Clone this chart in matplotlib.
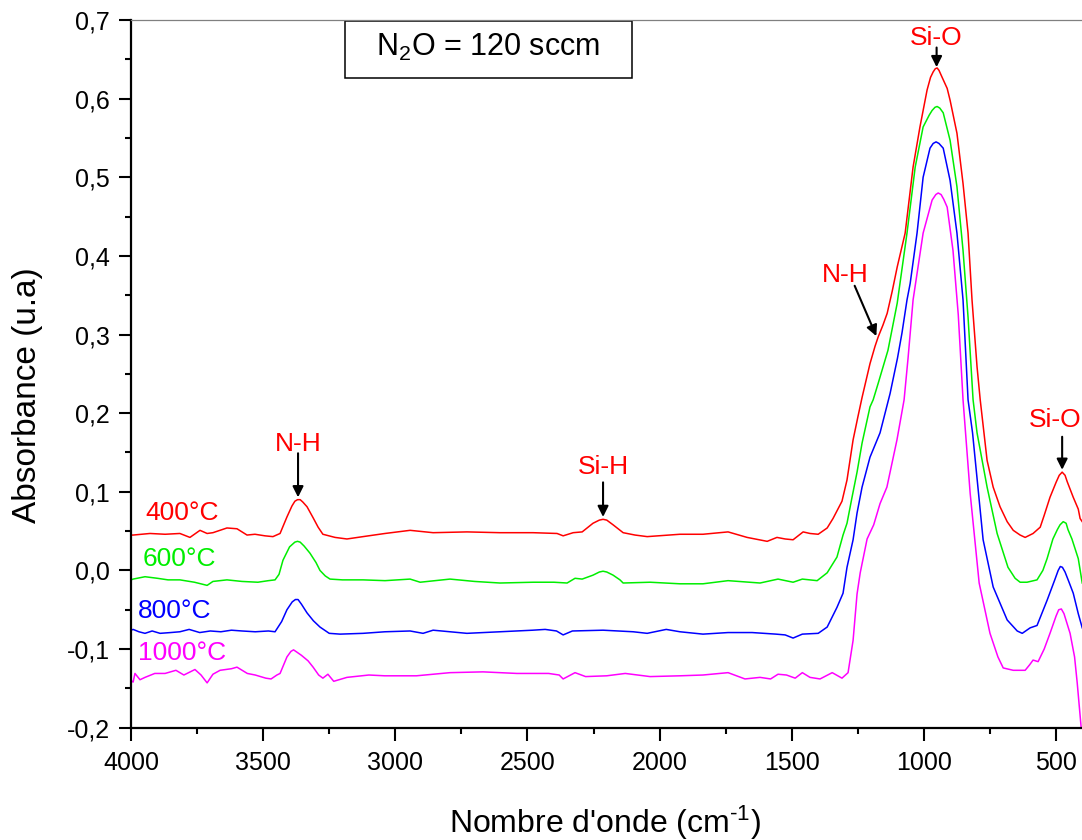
import matplotlib
matplotlib.use("Agg")
import matplotlib.pyplot as plt
from matplotlib.patches import Rectangle
from matplotlib.ticker import MultipleLocator, FixedLocator, FixedFormatter

plt.rcParams['font.family'] = ['Liberation Sans', 'DejaVu Sans']
plt.rcParams['mathtext.fontset'] = 'custom'
plt.rcParams['mathtext.rm'] = 'Liberation Sans'
plt.rcParams['mathtext.default'] = 'regular'

# ---- FTIR spectra (wavenumber in cm-1, absorbance in a.u.) ----
wn_400 = [4000, 3992, 3928, 3871, 3815, 3777, 3739, 3712, 3690, 3637, 3599, 3561, 3531,
          3493, 3463, 3436, 3410, 3391, 3380, 3370, 3360, 3350, 3334, 3311, 3292, 3274,
          3228, 3183, 3122, 3039, 2944, 2857, 2729, 2604, 2479, 2388, 2365, 2327, 2293,
          2252, 2228, 2214, 2200, 2176, 2138, 2093, 2047, 1923, 1836, 1741, 1669, 1593,
          1556, 1525, 1495, 1457, 1431, 1400, 1366, 1344, 1310, 1291, 1268, 1250, 1234,
          1204, 1185, 1173, 1155, 1139, 1120, 1101, 1071, 1041, 1015, 988, 975, 965, 957,
          950, 943, 931, 912, 901, 875, 852, 833, 818, 799, 787, 761, 738, 712, 685, 662,
          636, 617, 587, 560, 545, 523, 500, 488, 477, 466, 458, 435, 416, 409, 401]
abs_400 = [0.045, 0.045, 0.047, 0.046, 0.047, 0.042, 0.051, 0.047, 0.048, 0.054, 0.053,
           0.045, 0.046, 0.044, 0.043, 0.047, 0.068, 0.082, 0.088, 0.090, 0.090, 0.087,
           0.081, 0.067, 0.055, 0.046, 0.042, 0.040, 0.043, 0.047, 0.051, 0.048, 0.049,
           0.048, 0.048, 0.047, 0.044, 0.048, 0.049, 0.060, 0.064, 0.065, 0.064, 0.058,
           0.048, 0.045, 0.043, 0.046, 0.046, 0.049, 0.042, 0.037, 0.042, 0.040, 0.039,
           0.049, 0.047, 0.046, 0.054, 0.066, 0.088, 0.115, 0.166, 0.195, 0.220, 0.263,
           0.285, 0.297, 0.312, 0.327, 0.355, 0.386, 0.429, 0.513, 0.564, 0.611, 0.627,
           0.634, 0.638, 0.639, 0.636, 0.627, 0.613, 0.598, 0.556, 0.492, 0.429, 0.344,
           0.259, 0.217, 0.140, 0.106, 0.081, 0.062, 0.051, 0.045, 0.042, 0.047, 0.055,
           0.070, 0.093, 0.112, 0.121, 0.125, 0.121, 0.113, 0.093, 0.078, 0.066, 0.062]

wn_600 = [4000, 3992, 3947, 3900, 3860, 3815, 3760, 3712, 3690, 3637, 3580, 3520, 3480,
          3455, 3440, 3425, 3400, 3380, 3370, 3360, 3345, 3323, 3300, 3285, 3265, 3247,
          3200, 3122, 3039, 2944, 2906, 2793, 2700, 2604, 2479, 2400, 2350, 2320, 2293,
          2252, 2228, 2214, 2200, 2176, 2150, 2138, 2036, 1923, 1836, 1741, 1620, 1552,
          1495, 1460, 1404, 1366, 1329, 1306, 1291, 1272, 1253, 1234, 1204, 1192, 1173,
          1136, 1101, 1064, 1033, 1003, 980, 969, 958, 950, 940, 927, 901, 875, 852, 833,
          814, 799, 761, 723, 682, 655, 636, 610, 572, 550, 534, 512, 495, 485, 473,
          462, 455, 440, 416, 401]
abs_600 = [-0.012, -0.011, -0.008, -0.010, -0.012, -0.012, -0.015, -0.019, -0.014, -0.012,
           -0.014, -0.015, -0.013, -0.012, -0.005, 0.013, 0.030, 0.036, 0.037, 0.036,
           0.031, 0.022, 0.010, 0.000, -0.007, -0.011, -0.012, -0.012, -0.013, -0.011,
           -0.015, -0.011, -0.014, -0.016, -0.015, -0.015, -0.016, -0.010, -0.011, -0.006,
           -0.002, -0.001, -0.002, -0.006, -0.012, -0.016, -0.015, -0.017, -0.017, -0.013,
           -0.016, -0.011, -0.015, -0.011, -0.013, -0.003, 0.017, 0.045, 0.060, 0.093,
           0.125, 0.162, 0.208, 0.217, 0.238, 0.280, 0.340, 0.429, 0.513, 0.564, 0.579,
           0.585, 0.589, 0.590, 0.588, 0.582, 0.547, 0.488, 0.407, 0.322, 0.217, 0.175,
           0.106, 0.047, 0.004, -0.010, -0.015, -0.015, -0.012, 0.000, 0.015, 0.040,
           0.052, 0.058, 0.062, 0.060, 0.052, 0.040, 0.015, -0.016]

wn_800 = [4000, 3992, 3970, 3947, 3920, 3890, 3850, 3815, 3780, 3740, 3700, 3660, 3620,
          3580, 3530, 3480, 3455, 3430, 3410, 3390, 3378, 3368, 3355, 3334, 3310, 3285,
          3250, 3209, 3122, 3039, 2944, 2895, 2857, 2729, 2604, 2480, 2433, 2390, 2365,
          2330, 2214, 2100, 2047, 1975, 1923, 1836, 1741, 1650, 1560, 1525, 1495, 1460,
          1400, 1366, 1329, 1306, 1291, 1268, 1253, 1234, 1204, 1166, 1128, 1100, 1083,
          1064, 1052, 1026, 1003, 977, 965, 954, 943, 927, 901, 875, 852, 833, 816, 776,
          738, 685, 647, 628, 598, 572, 534, 505, 492, 484, 476, 466, 452, 435, 416, 401]
abs_800 = [-0.076, -0.075, -0.078, -0.080, -0.077, -0.080, -0.079, -0.078, -0.075, -0.079,
           -0.077, -0.078, -0.076, -0.077, -0.078, -0.077, -0.078, -0.065, -0.050, -0.040,
           -0.037, -0.037, -0.043, -0.054, -0.064, -0.072, -0.080, -0.081, -0.080, -0.078,
           -0.077, -0.080, -0.076, -0.080, -0.078, -0.076, -0.075, -0.077, -0.082, -0.077,
           -0.076, -0.078, -0.080, -0.075, -0.078, -0.081, -0.079, -0.079, -0.081, -0.082,
           -0.086, -0.081, -0.080, -0.072, -0.047, -0.029, 0.004, 0.039, 0.073, 0.106,
           0.144, 0.175, 0.225, 0.270, 0.302, 0.344, 0.365, 0.429, 0.500, 0.537, 0.543,
           0.545, 0.543, 0.537, 0.496, 0.429, 0.344, 0.217, 0.175, 0.039, -0.021, -0.063,
           -0.077, -0.080, -0.073, -0.070, -0.038, -0.012, 0.000, 0.005, 0.004, -0.002,
           -0.014, -0.029, -0.055, -0.073]

wn_1000 = [4000, 3992, 3985, 3966, 3947, 3910, 3871, 3830, 3800, 3758, 3735, 3712, 3690,
           3663, 3620, 3599, 3560, 3530, 3490, 3470, 3448, 3436, 3410, 3395, 3385, 3372,
           3355, 3330, 3311, 3290, 3274, 3255, 3233, 3183, 3100, 3040, 2982, 2920, 2793,
           2668, 2540, 2420, 2380, 2365, 2320, 2280, 2200, 2130, 2036, 1923, 1836, 1741,
           1677, 1620, 1580, 1552, 1520, 1487, 1460, 1431, 1393, 1347, 1310, 1287, 1268,
           1253, 1241, 1215, 1190, 1166, 1140, 1102, 1075, 1060, 1041, 1003, 969, 955,
           946, 935, 925, 912, 890, 870, 852, 825, 791, 750, 720, 700, 662, 617, 600,
           587, 568, 545, 523, 500, 490, 480, 470, 447, 430, 420, 405, 400]
abs_1000 = [-0.140, -0.142, -0.131, -0.139, -0.136, -0.131, -0.131, -0.127, -0.133, -0.126,
            -0.133, -0.143, -0.132, -0.127, -0.125, -0.123, -0.131, -0.133, -0.137, -0.138,
            -0.133, -0.131, -0.110, -0.103, -0.101, -0.104, -0.108, -0.115, -0.123, -0.133,
            -0.137, -0.132, -0.141, -0.136, -0.133, -0.134, -0.134, -0.134, -0.130, -0.129,
            -0.131, -0.131, -0.133, -0.138, -0.130, -0.135, -0.134, -0.131, -0.135, -0.134,
            -0.133, -0.130, -0.138, -0.136, -0.138, -0.132, -0.133, -0.137, -0.130, -0.136,
            -0.138, -0.130, -0.137, -0.130, -0.089, -0.030, -0.003, 0.040, 0.058, 0.085,
            0.106, 0.166, 0.217, 0.270, 0.344, 0.429, 0.471, 0.478, 0.480, 0.478, 0.472,
            0.462, 0.407, 0.325, 0.217, 0.098, -0.016, -0.080, -0.110, -0.124, -0.127,
            -0.127, -0.120, -0.114, -0.116, -0.100, -0.080, -0.058, -0.050, -0.049, -0.055,
            -0.080, -0.110, -0.143, -0.200, -0.215]

series = [
    ("400°C", wn_400, abs_400, "#ff0000"),
    ("600°C", wn_600, abs_600, "#00ee00"),
    ("800°C", wn_800, abs_800, "#0000ff"),
    ("1000°C", wn_1000, abs_1000, "#ff00ff"),
]

# curve labels: (wavenumber, absorbance baseline)
curve_label_pos = [(3947, 0.064), (3955, 0.0056), (3974, -0.0605), (3974, -0.114)]

# band assignments: (text, text x, text y, arrow start, arrow tip)
bands = [
    ("N-H", 3368, 0.152, (3368, 0.149), (3368, 0.093)),
    ("Si-H", 2214, 0.123, (2214, 0.112), (2214, 0.068)),
    ("N-H", 1298, 0.367, (1262, 0.362), (1180, 0.298)),
    ("Si-O", 952, 0.668, (952, 0.665), (952, 0.640)),
    ("Si-O", 505, 0.182, (477, 0.170), (477, 0.128)),
]

y_ticks = [-0.2, -0.1, 0.0, 0.1, 0.2, 0.3, 0.4, 0.5, 0.6, 0.7]
y_ticklabels = ["-0,2", "-0,1", "0,0", "0,1", "0,2", "0,3", "0,4", "0,5", "0,6", "0,7"]
x_ticks = [4000, 3500, 3000, 2500, 2000, 1500, 1000, 500]
x_ticklabels = ["4000", "3500", "3000", "2500", "2000", "1500", "1000", "500"]

W, H = 1082, 840
fig = plt.figure(figsize=(W / 100, H / 100), dpi=100)
ax = fig.add_axes([131 / W, 112.3 / H, 951.5 / W, 707.7 / H])

for (name, wn, ab, col), (lx, ly) in zip(series, curve_label_pos):
    ax.plot(wn, ab, color=col, lw=1.1)
    ax.text(lx, ly, name, color=col, fontsize=19, ha='left', va='baseline')

for txt, tx, ty, start, tip in bands:
    ax.text(tx, ty, txt, color='#ff0000', fontsize=19, ha='center', va='baseline',
            clip_on=True)
    ax.annotate('', xy=tip, xytext=start,
                arrowprops=dict(arrowstyle='-|>', color='black', lw=1.5,
                                mutation_scale=16, shrinkA=0, shrinkB=0))

ax.set_xlim(4000, 400)
ax.set_ylim(-0.2, 0.7)

ax.xaxis.set_major_locator(FixedLocator(x_ticks))
ax.xaxis.set_major_formatter(FixedFormatter(x_ticklabels))
ax.xaxis.set_minor_locator(MultipleLocator(250))
ax.yaxis.set_major_locator(FixedLocator(y_ticks))
ax.yaxis.set_major_formatter(FixedFormatter(y_ticklabels))
ax.yaxis.set_minor_locator(MultipleLocator(0.05))

ax.tick_params(which='both', direction='out', width=1.5, colors='black',
               top=False, right=False)
ax.tick_params(which='major', length=9)
ax.tick_params(which='minor', length=4.5)
ax.tick_params(axis='x', which='major', labelsize=18, pad=8)
ax.tick_params(axis='y', which='major', labelsize=18, pad=6)

for side in ('left', 'bottom'):
    ax.spines[side].set_linewidth(1.6)
    ax.spines[side].set_color('black')
ax.spines['right'].set_visible(False)
ax.spines['top'].set_linewidth(0.9)
ax.spines['top'].set_color('#808080')

ax.set_xlabel(r"Nombre d'onde (cm$^{\text{-1}}$)", fontsize=23, va='center')
ax.xaxis.set_label_coords(0.498, -0.134)
ax.set_ylabel("Absorbance (u.a)", fontsize=24, va='center')
ax.yaxis.set_label_coords(-0.109, 0.470)

ax.add_patch(Rectangle((0.225, 0.918), 0.3015, 0.0806, transform=ax.transAxes,
                       fill=False, edgecolor='black', lw=1.1, clip_on=False))
ax.text(0.375, 0.961, "N$_2$O = 120 sccm", transform=ax.transAxes, fontsize=22,
        ha='center', va='center')

fig.savefig("out.png", dpi=100)
